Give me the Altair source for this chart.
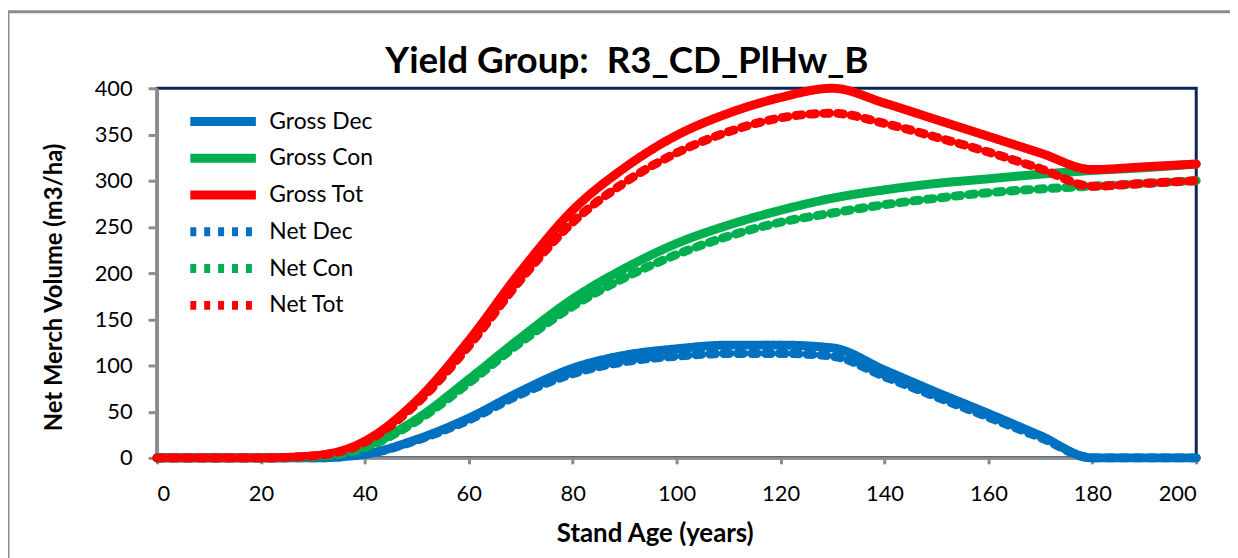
import altair as alt
import pandas as pd

ages = [0, 10, 20, 30, 40, 50, 60, 70, 80, 90, 100, 110, 120, 130, 140, 150, 160, 170, 180, 190, 200]

gross_dec = [0, 0, 0, 0, 4, 20, 43, 72, 97, 111, 118, 122, 122, 119, 95, 71, 48, 24, 0, 0, 0]
gross_con = [0, 0, 0, 1, 12, 42, 85, 130, 172, 205, 232, 252, 268, 281, 290, 297, 302, 307, 311, 314, 318]
gross_tot = [0, 0, 0, 2, 18, 62, 127, 202, 268, 314, 349, 373, 390, 400, 384, 366, 348, 330, 312, 315, 318]
net_dec = [0, 0, 0, 0, 4, 19, 41, 69, 91, 104, 110, 113, 113, 110, 88, 66, 44, 22, 0, 0, 0]
net_con = [0, 0, 0, 1, 11, 40, 81, 125, 164, 195, 220, 240, 255, 265, 274, 281, 287, 291, 294, 297, 300]
net_tot = [0, 0, 0, 2, 17, 59, 121, 193, 255, 298, 330, 353, 368, 373, 362, 347, 331, 313, 294, 297, 300]

series = ["Gross Dec", "Gross Con", "Gross Tot", "Net Dec", "Net Con", "Net Tot"]
values = [gross_dec, gross_con, gross_tot, net_dec, net_con, net_tot]
colors = ["#0070C0", "#00B050", "#FF0000", "#0070C0", "#00B050", "#FF0000"]
widths = [9, 9, 9, 4, 4, 4]
dashes = [[1, 0], [1, 0], [1, 0], [6, 8], [6, 8], [6, 8]]

title_text = ["Yield Group:\u00a0 R3_CD_PlHw_B"]

rows = []
for i, (name, vals) in enumerate(zip(series, values)):
    for a, v in zip(ages, vals):
        rows.append({"age": a, "vol": v, "series": name, "order": i})
df = pd.DataFrame(rows)

FONT = "Lato"

one = pd.DataFrame({"k": [0]})
frame_top = alt.Chart(one).mark_rule(stroke="#8C8C8C", strokeWidth=3, clip=False).encode(
    x=alt.value(-150), x2=alt.value(1090), y=alt.value(-77)
)
frame_left = alt.Chart(one).mark_rule(stroke="#8C8C8C", strokeWidth=3, clip=False).encode(
    x=alt.value(-150), y=alt.value(-78), y2=alt.value(480)
)

title = alt.Chart(pd.DataFrame({"t": title_text})).mark_text(
    font=FONT, fontSize=37, fontWeight="bold", color="black",
    align="center", baseline="alphabetic", clip=False
).encode(text="t:N", x=alt.value(473), y=alt.value(-15))

def leg():
    return alt.Legend(
        title=None, orient="none", legendX=29, legendY=18,
        symbolType="M-1,0H5", symbolSize=484,
        labelFontSize=23, labelFont=FONT, labelColor="black", rowPadding=0,
        labelOffset=53,
    )

lines = alt.Chart(df).mark_line(interpolate="monotone", strokeCap="round", strokeJoin="round", clip=False).encode(
    x=alt.X("age:Q", scale=alt.Scale(domain=[0, 200], nice=False),
            axis=alt.Axis(values=list(range(0, 201, 20)), title="Stand Age (years)",
                          grid=False, tickSize=6, labelPadding=20, titlePadding=16,
                          titleX=501, titleFontSize=26)),
    y=alt.Y("vol:Q", scale=alt.Scale(domain=[0, 400], nice=False),
            axis=alt.Axis(values=list(range(0, 401, 50)), title="Net Merch Volume (m3/ha)",
                          grid=False, tickSize=9, labelPadding=16, titlePadding=28, titleY=200)),
    color=alt.Color("series:N", scale=alt.Scale(domain=series, range=colors), legend=leg()),
    strokeWidth=alt.StrokeWidth("series:N", scale=alt.Scale(domain=series, range=widths), legend=leg()),
    strokeDash=alt.StrokeDash("series:N", scale=alt.Scale(domain=series, range=dashes), legend=leg()),
    order=alt.Order("order:Q"),
    detail="series:N",
)

chart = alt.layer(frame_top, frame_left, lines, title).properties(
    width=1046, height=372,
    autosize=alt.AutoSizeParams(type="none"),
    padding={"left": 150, "top": 79, "right": 34, "bottom": 99},
).configure(
    background="white"
).configure_view(
    stroke="#0D2456", strokeWidth=3
).configure_axis(
    domainColor="#8C8C8C", domainWidth=3, tickColor="#8C8C8C", tickWidth=3,
    labelFont=FONT, labelFontSize=22, labelColor="black",
    titleFont=FONT, titleFontSize=24, titleFontWeight="bold", titleColor="black",
)

chart.save("out.html", embed_options={"renderer": "svg", "actions": False})
